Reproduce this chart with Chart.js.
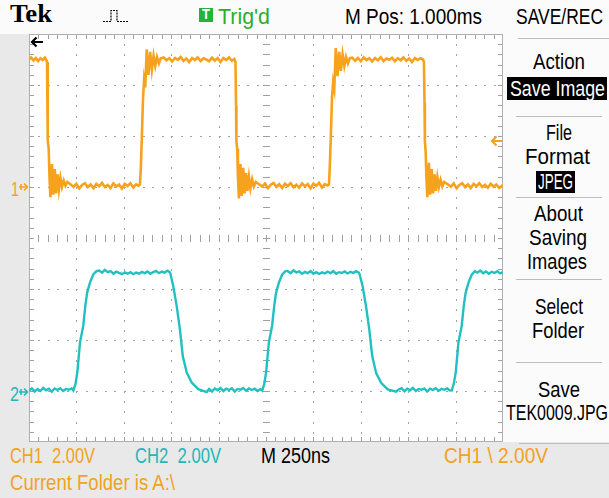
<!DOCTYPE html>
<html>
<head>
<meta charset="utf-8">
<script src="https://cdn.jsdelivr.net/npm/chart.js@4"></script>
<style>
  html, body { margin: 0; padding: 0; }
  body { width: 609px; height: 498px; overflow: hidden; background: #fbfbfb; font-family: "Liberation Sans", Arial, sans-serif; }
  #screen { position: relative; width: 609px; height: 498px; }
  .strip { position: absolute; background: #e9e9e9; }
  #plot { position: absolute; left: 29px; top: 34px; width: 474px; height: 408px; background: #fff; }
  .lbl { position: absolute; font-size: 22px; line-height: 22px; white-space: pre; transform-origin: 0 0; }
  .box { position: absolute; background: #000; }
  .sep { position: absolute; height: 1px; background: #bdbdbd; }
</style>
</head>
<body>
<div id="screen">
  <div class="strip" style="left:0;top:34px;width:29px;height:408px"></div>
  <div class="strip" style="left:0;top:442px;width:609px;height:56px"></div>
  <div id="plot"><canvas id="scope" width="474" height="408"></canvas></div>

  <div class="lbl" data-w="42" style="left:10px;top:1px;font-family:'Liberation Serif',serif;font-weight:bold;font-size:26px;line-height:26px">Tek</div>
  <svg style="position:absolute;left:100px;top:6px" width="32" height="20">
    <path d="M3 15.5 H11 V4.5 H17 V15.5 H29" fill="none" stroke="#000" stroke-width="1.2" stroke-dasharray="2 1"/>
  </svg>
  <div style="position:absolute;left:199px;top:8px;width:14px;height:14px;background:#22b43a"></div>
  <div class="lbl" data-w="8" style="left:202px;top:6px;font-size:15px;line-height:15px;font-weight:bold;color:#fff">T</div>
  <div class="lbl" data-w="52" style="left:218px;top:6px;color:#27b12a">Trig'd</div>
  <div class="lbl" data-w="137" style="left:345px;top:6px;color:#000">M Pos: 1.000ms</div>
  <div class="lbl" data-w="87" style="left:516px;top:6px;color:#000">SAVE/REC</div>

  <div class="sep" style="left:518px;top:38px;width:91px"></div>
  <div class="lbl" data-w="52" style="left:533px;top:51px">Action</div>
  <div class="box" style="left:507px;top:77px;width:100px;height:23px"></div>
  <div class="lbl" data-w="95" style="left:510px;top:78px;color:#fff">Save Image</div>
  <div class="sep" style="left:516px;top:116px;width:86px"></div>
  <div class="lbl" data-w="26" style="left:546px;top:122px">File</div>
  <div class="lbl" data-w="65" style="left:525px;top:146px">Format</div>
  <div class="box" style="left:536px;top:171px;width:39px;height:22px"></div>
  <div class="lbl" data-w="35" style="left:538px;top:171px;color:#fff">JPEG</div>
  <div class="sep" style="left:516px;top:197px;width:86px"></div>
  <div class="lbl" data-w="49" style="left:534px;top:203px">About</div>
  <div class="lbl" data-w="58" style="left:529px;top:227px">Saving</div>
  <div class="lbl" data-w="60" style="left:527px;top:251px">Images</div>
  <div class="sep" style="left:516px;top:279px;width:86px"></div>
  <div class="lbl" data-w="48" style="left:535px;top:296px">Select</div>
  <div class="lbl" data-w="52" style="left:532px;top:320px">Folder</div>
  <div class="sep" style="left:516px;top:362px;width:86px"></div>
  <div class="lbl" data-w="42" style="left:538px;top:379px">Save</div>
  <div class="lbl" data-w="102" style="left:506px;top:402px">TEK0009.JPG</div>
  <div class="sep" style="left:519px;top:443px;width:90px"></div>

  <div class="lbl" data-w="85" style="left:10px;top:445px;color:#f2a21e">CH1  2.00V</div>
  <div class="lbl" data-w="86" style="left:135px;top:445px;color:#22b8b8">CH2  2.00V</div>
  <div class="lbl" data-w="69" style="left:261px;top:445px;color:#000">M 250ns</div>
  <div class="lbl" data-w="104" style="left:444px;top:445px;color:#f2a21e">CH1 \ 2.00V</div>
  <div class="lbl" data-w="165" style="left:10px;top:472px;color:#f2a21e">Current Folder is A:\</div>

  <div class="lbl" data-w="8" style="left:11px;top:179px;font-size:20px;line-height:20px;color:#f2a21e">1</div>
  <svg style="position:absolute;left:18px;top:181px" width="11" height="12">
    <path d="M1 6 H9 M6 2.5 L9.5 6 L6 9.5 M3 3 V9" fill="none" stroke="#f2a21e" stroke-width="1.6"/>
  </svg>
  <div class="lbl" data-w="9" style="left:10px;top:384px;font-size:20px;line-height:20px;color:#22b8b8">2</div>
  <svg style="position:absolute;left:18px;top:386px" width="11" height="12">
    <path d="M1 6 H9 M6 2.5 L9.5 6 L6 9.5 M3 3 V9" fill="none" stroke="#22b8b8" stroke-width="1.6"/>
  </svg>
  <svg style="position:absolute;left:30px;top:36px" width="14" height="12">
    <path d="M2 6 H13 M6.5 1.5 L2 6 L6.5 10.5" fill="none" stroke="#000" stroke-width="2.2"/>
  </svg>
  <svg style="position:absolute;left:490px;top:135px" width="13" height="12">
    <path d="M2 6 H12 M6.5 1.5 L2 6 L6.5 10.5" fill="none" stroke="#f2a21e" stroke-width="2.2"/>
  </svg>
</div>

<script>
// scope settings
const ch1Range = [-10, 6];   // volts, ground marker 1 div above centre
const ch2Range = [-2, 14];   // volts, ground marker 3 div below centre
const timeRange = [0, 2500]; // ns, 250ns/div

// [time ns, volts]
const ch1Trace = [
  [0,5.0],[12,5.08],[24,4.96],[36,5.06],[48,4.94],[60,5.05],[72,4.98],[84,5.07],[92,4.97],
  [95,4.9],[98,3.2],[100,1.8],[104,1.5],[108,0.4],[113,-0.4],[121,0.9],[128,-0.3],[136,0.7],[143,-0.25],[151,0.5],[158,-0.1],[166,0.35],[174,0.0],[183,0.25],[192,0.05],[202,0.2],
  [220,0.1],[235,0.0],[250,0.12],[265,-0.06],[280,0.08],[295,0.15],[310,0.0],[325,0.1],[340,-0.05],[355,0.12],[370,0.03],[385,0.16],[400,0.0],[415,0.08],[430,-0.04],[445,0.14],[460,0.02],[475,0.1],[490,-0.06],[505,0.12],[520,0.04],[535,0.15],[550,-0.02],[565,0.1],[578,0.05],
  [585,0.1],[589,0.6],[595,1.9],[601,3.4],[607,4.2],[613,3.9],[621,5.4],[630,4.4],[639,5.3],[648,4.6],[657,5.15],[666,4.75],[675,5.1],[685,4.85],[695,5.05],
  [710,5.08],[725,4.97],[740,5.05],[755,4.92],[770,5.06],[785,4.99],[800,5.1],[815,4.95],[830,5.04],[845,4.9],[860,5.06],[875,4.98],[890,5.08],[905,4.94],[920,5.05],[935,5.0],[950,4.93],[965,5.07],[980,4.96],[995,5.05],[1010,4.9],[1025,5.06],[1040,4.98],[1055,5.08],[1070,4.95],[1083,5.02],
  [1089,4.9],[1092,3.2],[1094,1.8],[1098,1.5],[1102,0.4],[1107,-0.45],[1115,0.9],[1122,-0.35],[1130,0.75],[1137,-0.25],[1145,0.55],[1152,-0.15],[1160,0.4],[1168,-0.05],[1177,0.3],[1186,0.02],[1196,0.2],
  [1215,0.1],[1230,0.02],[1245,0.13],[1260,-0.05],[1275,0.09],[1290,0.16],[1305,0.01],[1320,0.11],[1335,-0.04],[1350,0.13],[1365,0.04],[1380,0.15],[1395,-0.01],[1410,0.09],[1425,-0.03],[1440,0.14],[1455,0.03],[1470,0.11],[1485,-0.05],[1500,0.13],[1515,0.05],[1530,0.16],[1545,-0.02],[1560,0.11],[1575,0.06],
  [1582,0.1],[1586,0.7],[1592,2.0],[1598,3.5],[1604,4.1],[1610,3.85],[1618,5.45],[1627,4.35],[1636,5.3],[1645,4.55],[1654,5.2],[1663,4.75],[1672,5.1],[1682,4.85],[1692,5.05],
  [1705,5.07],[1720,4.95],[1735,5.06],[1750,4.93],[1765,5.08],[1780,4.98],[1795,5.05],[1810,4.92],[1825,5.06],[1840,4.97],[1855,5.09],[1870,4.94],[1885,5.04],[1900,4.99],[1915,5.07],[1930,4.93],[1945,5.05],[1960,4.97],[1975,5.08],[1990,4.95],[2005,5.04],[2020,4.9],[2035,5.06],[2050,4.98],[2065,5.05],[2078,5.0],
  [2083,4.9],[2086,3.3],[2088,1.8],[2092,1.4],[2096,0.4],[2101,-0.4],[2109,0.95],[2116,-0.3],[2124,0.7],[2131,-0.25],[2139,0.5],[2146,-0.15],[2154,0.38],[2162,0.0],[2171,0.28],[2180,0.03],[2190,0.2],
  [2210,0.1],[2225,0.01],[2240,0.14],[2255,-0.05],[2270,0.08],[2285,0.15],[2300,0.0],[2315,0.1],[2330,-0.04],[2345,0.12],[2360,0.03],[2375,0.15],[2390,0.0],[2405,0.09],[2420,-0.03],[2435,0.13],[2450,0.02],[2465,0.1],[2480,-0.04],[2500,0.08]
];

const ch2Trace = [
  [0,0.02],[15,0.1],[30,-0.02],[45,0.08],[60,0.0],[75,0.12],[90,0.03],[105,0.09],[120,-0.03],[135,0.1],[150,0.04],[165,0.11],[180,0.0],[195,0.08],[210,0.05],[225,0.1],
  [234,0.02],[245,0.27],[255,0.74],[269,1.91],[286,2.55],[298,3.4],[307,3.87],[322,4.26],[339,4.57],[356,4.7],
  [370,4.72],[385,4.64],[400,4.75],[415,4.66],[430,4.7],[445,4.6],[460,4.68],[475,4.63],[490,4.58],[505,4.65],[520,4.6],[535,4.66],[550,4.58],[565,4.64],[580,4.6],[595,4.67],[610,4.62],[625,4.69],[640,4.6],[655,4.66],[670,4.71],[685,4.62],[700,4.68],[715,4.64],[730,4.72],[742,4.66],
  [746,4.6],[761,4.11],[779,3.33],[796,2.42],[811,1.37],[832,0.72],[858,0.33],[893,0.07],[937,-0.04],
  [950,0.08],[965,-0.02],[980,0.1],[995,0.03],[1010,0.12],[1025,0.0],[1040,0.09],[1055,0.04],[1070,0.11],[1085,-0.02],[1100,0.08],[1115,0.05],[1130,0.12],[1145,0.01],[1160,0.1],[1175,0.04],[1190,0.09],[1205,0.0],[1220,0.07],
  [1230,0.02],[1241,0.28],[1251,0.76],[1265,1.9],[1282,2.55],[1294,3.38],[1303,3.85],[1318,4.25],[1335,4.56],[1352,4.7],
  [1365,4.7],[1380,4.62],[1395,4.73],[1410,4.65],[1425,4.69],[1440,4.6],[1455,4.67],[1470,4.62],[1485,4.7],[1500,4.6],[1515,4.66],[1530,4.59],[1545,4.65],[1560,4.61],[1575,4.68],[1590,4.62],[1605,4.7],[1620,4.6],[1635,4.66],[1650,4.63],[1665,4.69],[1680,4.61],[1695,4.67],[1710,4.63],[1725,4.7],[1738,4.65],
  [1743,4.6],[1760,4.1],[1778,3.3],[1795,2.4],[1810,1.38],[1831,0.7],[1857,0.32],[1892,0.06],[1936,-0.03],
  [1950,0.06],[1965,0.11],[1980,-0.01],[1995,0.09],[2010,0.03],[2025,0.12],[2040,0.0],[2055,0.08],[2070,0.05],[2085,0.1],[2100,-0.02],[2115,0.09],[2130,0.04],[2145,0.11],[2160,0.01],[2175,0.08],[2190,0.05],[2205,0.1],[2218,0.03],
  [2230,0.02],[2241,0.3],[2251,0.75],[2265,1.9],[2282,2.55],[2294,3.4],[2303,3.85],[2318,4.25],[2335,4.56],[2352,4.7],
  [2365,4.64],[2380,4.72],[2395,4.62],[2410,4.69],[2425,4.6],[2440,4.67],[2455,4.63],[2470,4.7],[2485,4.61],[2500,4.66]
];

// squeeze labels to the scope's narrow font widths
document.querySelectorAll('.lbl').forEach(function(el) {
    const w = parseFloat(el.dataset.w);
    const actual = el.getBoundingClientRect().width;
    if (w && actual) el.style.transform = 'scaleX(' + (w / actual) + ')';
});

// graticule: dotted divisions, centre cross and edge rulers
const graticule = {
    id: 'graticule',
    beforeDatasetsDraw(chart) {
        const ctx = chart.ctx, a = chart.chartArea;
        const x = chart.scales.x, y = chart.scales.y1;
        const xs = [], ys = [];
        for (let i = 0; i <= 50; i++) xs.push(Math.round(x.getPixelForValue(timeRange[0] + i * 50)));
        for (let j = 0; j <= 40; j++) ys.push(Math.round(y.getPixelForValue(ch1Range[0] + j * 0.4)));
        ctx.save();
        ctx.fillStyle = '#a2a2a2';
        for (let i = 5; i < 50; i += 5) {
            if (i == 25) continue;
            for (let j = 0; j <= 40; j++) ctx.fillRect(xs[i], ys[j], 1, 2);
        }
        for (let j = 5; j < 40; j += 5) {
            if (j == 20) continue;
            for (let i = 0; i <= 50; i++) ctx.fillRect(xs[i], ys[j], 2, 1);
        }
        ctx.fillStyle = '#a0a0a0';
        for (let i = 0; i <= 50; i++) {
            ctx.fillRect(xs[i], ys[20] - 3, 1, 7);
            ctx.fillRect(xs[i], a.top, 1, 5);
            ctx.fillRect(xs[i], a.bottom - 5, 1, 5);
        }
        for (let j = 0; j <= 40; j++) {
            ctx.fillRect(xs[25] - 3, ys[j], 7, 1);
            ctx.fillRect(a.left, ys[j], 5, 1);
            ctx.fillRect(a.right - 5, ys[j], 5, 1);
        }
        ctx.strokeStyle = '#b0b0b0';
        ctx.lineWidth = 1;
        ctx.strokeRect(a.left + 0.5, a.top + 0.5, a.right - a.left - 1, a.bottom - a.top - 1);
        ctx.restore();
    }
};

new Chart("scope", {
    type: 'line',
    data: {
        datasets: [{
            label: 'CH1',
            data: ch1Trace.map(p => ({x: p[0], y: p[1]})),
            yAxisID: 'y1',
            borderColor: '#f7a21c',
            borderWidth: 2.6,
            pointRadius: 0,
            tension: 0
        },
        {
            label: 'CH2',
            data: ch2Trace.map(p => ({x: p[0], y: p[1]})),
            yAxisID: 'y2',
            borderColor: '#22c0c0',
            borderWidth: 2.4,
            pointRadius: 0,
            tension: 0
        }]
    },
    options: {
        responsive: false,
        animation: false,
        devicePixelRatio: 1,
        layout: { padding: 0 },
        plugins: { legend: { display: false }, tooltip: { enabled: false } },
        scales: {
            x: { type: 'linear', min: timeRange[0], max: timeRange[1], display: false },
            y1: { min: ch1Range[0], max: ch1Range[1], display: false },
            y2: { min: ch2Range[0], max: ch2Range[1], display: false }
        }
    },
    plugins: [graticule]
})
</script>
</body>
</html>
